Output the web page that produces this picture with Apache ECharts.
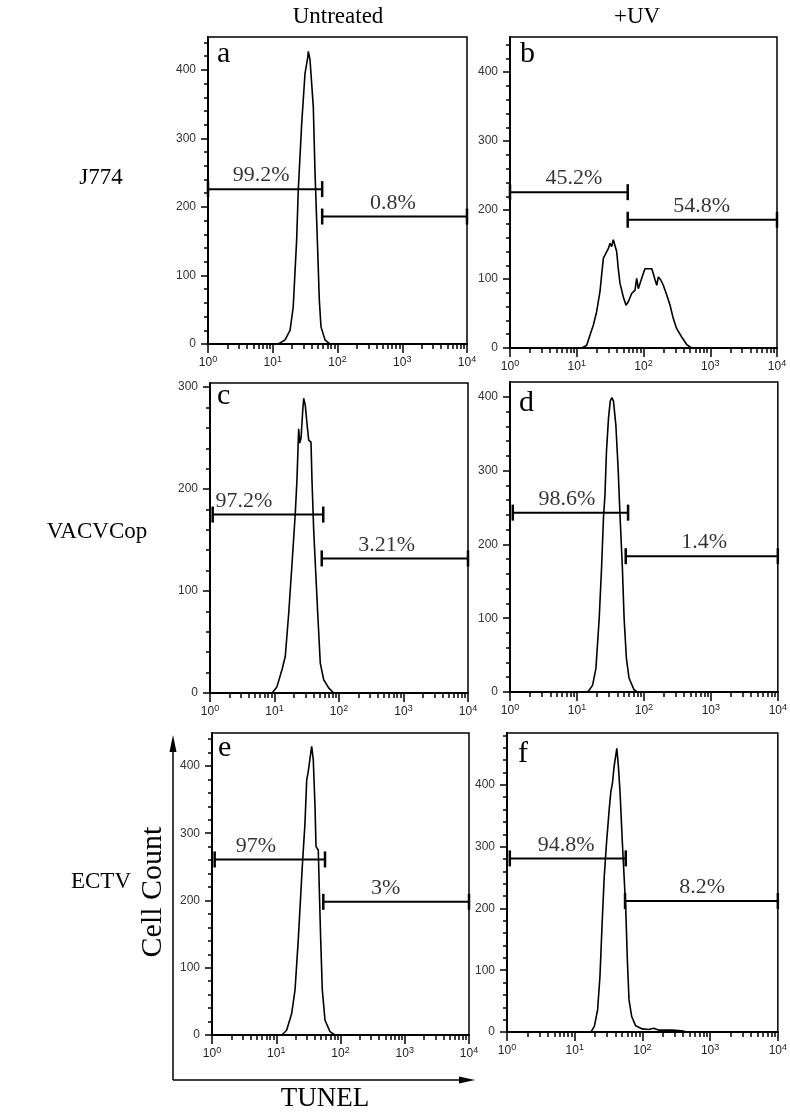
<html>

<head>
    <title>TUNEL histograms</title>
    <meta charset="utf-8" />
</head>

<body style="margin:0">
    <div id="main" style="width: 790px;height:1117px;"></div>
    <script src="https://cdn.jsdelivr.net/npm/echarts@6/dist/echarts.min.js" type="text/javascript"></script>
    <script type="text/javascript">
        var myChart = echarts.init(document.getElementById('main'));

        // histogram outlines: [TUNEL intensity, cell count]
        var curveA = [[12.2, 0], [15.5, 6], [18.5, 20], [20.7, 54], [23.4, 152], [24.8, 225], [28, 322], [31.5, 395],
            [34.7, 418], [35.4, 427], [37.6, 415], [42.3, 346], [45, 249], [48.8, 152], [52.4, 64], [55.6, 25], [64.1, 6], [76.6, 0]];
        var curveB = [[11.9, 0], [14.1, 4], [15.8, 19], [17.7, 33], [19.9, 53], [22.3, 82], [23.6, 106], [25.0, 130],
            [26.5, 135], [29.7, 144], [31.5, 152], [33.4, 147], [35.3, 157], [37.4, 157], [39.6, 140], [41.9, 115],
            [44.4, 94], [47.1, 84], [49.8, 74], [54.7, 62], [59.2, 67], [66.5, 79], [74.6, 84], [79.1, 101], [83.6, 86],
            [88.6, 86], [94.0, 101], [105, 115], [118, 115], [133, 115], [140, 108], [149, 99], [158, 91], [167, 103],
            [181, 99], [198, 91], [223, 77], [250, 62], [279, 43], [314, 28], [373, 16], [444, 5], [527, 0]];
        var curveC = [[9.15, 0], [10.9, 6], [13.1, 23], [14.7, 36], [16.6, 78], [18.7, 127], [21.0, 176], [22.3, 209],
            [23.7, 259], [24.6, 245], [25.8, 250], [27.4, 277], [28.4, 289], [30.0, 282], [31.9, 264], [33.9, 248],
            [36.8, 246], [38.1, 209], [40.5, 160], [42.9, 127], [46.8, 78], [51.3, 29], [57.9, 13], [69.2, 5], [82.7, 0]];
        var curveD = [[14.5, 0], [17.1, 9], [19.2, 32], [21.5, 100], [23.3, 168], [24.9, 236], [26.2, 267], [27.6, 326],
            [29.6, 371], [31.4, 394], [33.2, 399], [35.1, 394], [38.1, 362], [41.2, 303], [44.1, 236], [47.7, 168],
            [50.6, 100], [54.7, 46], [59.9, 19], [71.1, 3], [79.6, 0]];
        var curveE = [[12.2, 0], [14.5, 7], [17.4, 32], [19.6, 67], [22.0, 141], [24.3, 216], [25.4, 250], [28.0, 315],
            [29.8, 379], [31.5, 392], [33.5, 411], [35.6, 429], [37.7, 409], [40.1, 340], [41.6, 280], [45.1, 275],
            [46.8, 216], [49.2, 141], [52.1, 67], [57.4, 22], [68.7, 5], [82.0, 0]];
        var curveF = [[17.4, 0], [19.5, 9], [21.8, 36], [23.6, 90], [25.3, 171], [27.3, 252], [29.5, 306], [32.3, 360],
            [34.2, 389], [36.1, 403], [38.2, 430], [41.9, 459], [44.2, 430], [46.8, 387], [50.6, 306], [53.6, 252],
            [56.8, 198], [59.9, 117], [63.4, 52], [69.5, 25], [79.5, 10], [99.4, 5], [124, 4], [147, 6], [175, 3],
            [273, 3], [383, 2], [453, 0]];

        // marker gates: [from, to, count level, text, text anchor]
        var gatesA = [[1, 58, 226, '99.2%', 6.6], [58, 10000, 186, '0.8%', 720]];
        var gatesB = [[1, 58, 226, '45.2%', 9.1], [58, 10000, 186, '54.8%', 745]];
        var gatesC = [[1.1, 57, 175, '97.2%', 3.37], [54, 10000, 132, '3.21%', 549]];
        var gatesD = [[1.1, 58, 243, '98.6%', 7.1], [53.5, 10000, 184, '1.4%', 796]];
        var gatesE = [[1.1, 57.4, 261, '97%', 4.84], [54, 10000, 198, '3%', 505]];
        var gatesF = [[1.1, 56.7, 281, '94.8%', 7.5], [55.4, 10000, 212, '8.2%', 762]];

        var yMax = [448, 451, 304, 420, 449, 484];
        var yTicks4 = [0, 100, 200, 300, 400];
        var yTicks3 = [0, 100, 200, 300];
        var panelLetters = ['a', 'b', 'c', 'd', 'e', 'f'];
        var columnTitles = ['Untreated', '+UV'];
        var rowTitles = ['J774', 'VACVCop', 'ECTV'];

        var curves = [curveA, curveB, curveC, curveD, curveE, curveF];
        var gates = [gatesA, gatesB, gatesC, gatesD, gatesE, gatesF];
        var yTicks = [yTicks4, yTicks4, yTicks3, yTicks4, yTicks4, yTicks4];

        // plot boxes in pixels
        var boxes = [
            { left: 208, top: 37, width: 259, height: 307 },
            { left: 510, top: 37, width: 267, height: 311 },
            { left: 210, top: 383, width: 258, height: 310 },
            { left: 510, top: 382, width: 270, height: 310 },
            { left: 212, top: 733, width: 257, height: 302 },
            { left: 507, top: 733, width: 273, height: 299 }
        ];
        var letterPos = [[217, 54], [520, 54], [217, 396], [519, 403], [218, 748], [518, 754]];

        var serif = '"Liberation Serif", "Times New Roman", serif';
        var sans = '"Liberation Sans", Arial, sans-serif';

        // 2..9 inside every decade
        var minorX = [];
        for (var d = 0; d < 4; d++) {
            for (var m = 2; m < 10; m++) {
                minorX.push(d + Math.log10(m));
            }
        }

        var option = {
            animation: false,
            grid: [],
            xAxis: [],
            yAxis: [],
            series: [],
            graphic: []
        };

        for (var i = 0; i < 6; i++) {
            var b = boxes[i];
            option.grid.push({
                left: b.left, top: b.top, width: b.width, height: b.height,
                show: true, borderColor: '#000', borderWidth: 1.5, backgroundColor: 'transparent'
            });

            option.xAxis.push({
                gridIndex: i, type: 'value', min: 0, max: 4, interval: 1, position: 'bottom',
                axisLine: { onZero: false, lineStyle: { color: '#000', width: 2 } },
                axisTick: { inside: false, length: 9, lineStyle: { color: '#000', width: 1.5 } },
                splitLine: { show: false },
                axisLabel: {
                    margin: 11,
                    formatter: function (v) { return '{b|10}{s|' + v + '}'; },
                    rich: {
                        b: { fontSize: 12, fontFamily: sans, color: '#222', lineHeight: 16 },
                        s: { fontSize: 9, fontFamily: sans, color: '#222', verticalAlign: 'top', lineHeight: 10 }
                    }
                }
            });
            option.xAxis.push({
                gridIndex: i, type: 'value', min: 0, max: 4, position: 'bottom',
                axisLine: { show: false, onZero: false },
                axisTick: { inside: false, customValues: minorX, length: 5, lineStyle: { color: '#000', width: 1.5 } },
                axisLabel: { show: false },
                splitLine: { show: false }
            });

            var minorY = [];
            for (var v = 20; v < yMax[i]; v += 20) {
                minorY.push(v);
            }
            option.yAxis.push({
                gridIndex: i, type: 'value', min: 0, max: yMax[i], position: 'left',
                axisLine: { show: true, onZero: false, lineStyle: { color: '#000', width: 2 } },
                axisTick: { show: true, inside: false, customValues: yTicks[i], length: 7, lineStyle: { color: '#000', width: 1.5 } },
                axisLabel: { customValues: yTicks[i], margin: 12, fontSize: 12, fontFamily: sans, color: '#333' },
                splitLine: { show: false }
            });
            option.yAxis.push({
                gridIndex: i, type: 'value', min: 0, max: yMax[i], position: 'left',
                axisLine: { show: false, onZero: false },
                axisTick: { show: true, inside: false, customValues: minorY, length: 4, lineStyle: { color: '#000', width: 1.5 } },
                axisLabel: { show: false },
                splitLine: { show: false }
            });

            option.series.push({
                type: 'line',
                xAxisIndex: 2 * i,
                yAxisIndex: 2 * i,
                data: curves[i].map(function (p) { return [Math.log10(p[0]), p[1]]; }),
                symbol: 'none',
                lineStyle: { color: '#000', width: 1.6 }
            });

            var labelData = [];
            for (var g = 0; g < gates[i].length; g++) {
                var gt = gates[i][g];
                option.series.push({
                    type: 'line',
                    xAxisIndex: 2 * i,
                    yAxisIndex: 2 * i,
                    data: [[Math.log10(gt[0]), gt[2]], [Math.log10(gt[1]), gt[2]]],
                    symbol: 'rect',
                    symbolSize: [2.5, 16],
                    showSymbol: true,
                    clip: false,
                    itemStyle: { color: '#000' },
                    lineStyle: { color: '#000', width: 2 }
                });
                labelData.push([Math.log10(gt[4]), gt[2], gt[3]]);
            }
            option.series.push({
                type: 'scatter',
                xAxisIndex: 2 * i,
                yAxisIndex: 2 * i,
                data: labelData,
                symbolSize: 1,
                itemStyle: { color: 'rgba(0,0,0,0)' },
                label: {
                    show: true,
                    position: 'top',
                    distance: 2,
                    formatter: function (p) { return p.data[2]; },
                    fontFamily: serif,
                    fontSize: 22,
                    color: '#000'
                }
            });

            option.graphic.push({
                type: 'text', x: letterPos[i][0], y: letterPos[i][1],
                style: { text: panelLetters[i], font: '30px ' + serif, fill: '#000', textAlign: 'left', textVerticalAlign: 'middle' }
            });
        }

        option.graphic.push(
            { type: 'text', x: 338, y: 17, style: { text: columnTitles[0], font: '23px ' + serif, fill: '#000', textAlign: 'center', textVerticalAlign: 'middle' } },
            { type: 'text', x: 637, y: 17, style: { text: columnTitles[1], font: '23px ' + serif, fill: '#000', textAlign: 'center', textVerticalAlign: 'middle' } },
            { type: 'text', x: 101, y: 178, style: { text: rowTitles[0], font: '23px ' + serif, fill: '#000', textAlign: 'center', textVerticalAlign: 'middle' } },
            { type: 'text', x: 97, y: 532, style: { text: rowTitles[1], font: '23px ' + serif, fill: '#000', textAlign: 'center', textVerticalAlign: 'middle' } },
            { type: 'text', x: 101, y: 882, style: { text: rowTitles[2], font: '23px ' + serif, fill: '#000', textAlign: 'center', textVerticalAlign: 'middle' } },
            { type: 'text', x: 153, y: 892, rotation: Math.PI / 2, style: { text: 'Cell Count', font: '30px ' + serif, fill: '#000', textAlign: 'center', textVerticalAlign: 'middle' } },
            { type: 'text', x: 325, y: 1099, style: { text: 'TUNEL', font: '27px ' + serif, fill: '#000', textAlign: 'center', textVerticalAlign: 'middle' } },
            // axis arrows
            { type: 'line', shape: { x1: 173, y1: 1080, x2: 173, y2: 748 }, style: { stroke: '#000', lineWidth: 1.5 } },
            { type: 'polygon', shape: { points: [[173, 735], [169.5, 752], [176.5, 752]] }, style: { fill: '#000' } },
            { type: 'line', shape: { x1: 173, y1: 1080, x2: 462, y2: 1080 }, style: { stroke: '#000', lineWidth: 1.5 } },
            { type: 'polygon', shape: { points: [[475, 1080], [459, 1076.5], [459, 1083.5]] }, style: { fill: '#000' } }
        );

        myChart.setOption(option);
    </script>
</body>

</html>
